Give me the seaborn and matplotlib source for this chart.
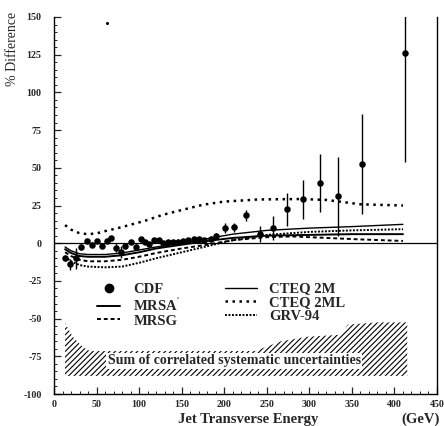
import numpy as np
import pandas as pd
import matplotlib
matplotlib.use("Agg")
import matplotlib.pyplot as plt
import seaborn as sns
from matplotlib.ticker import MultipleLocator, FuncFormatter
from matplotlib.lines import Line2D

# ---------------- data ----------------
cdf_et = [13, 19, 26, 32, 39, 45, 51, 56, 62, 67, 73, 79, 84, 90, 96, 102, 107, 112,
          117, 123, 128, 134, 140, 146, 152, 158, 164, 170, 176, 184, 190, 201, 211,
          225, 242, 257, 274, 292, 313, 334, 362, 412]
cdf_diff = [-9.5, -14, -10, -2.6, 1.5, -1, 1.5, -2, 1.5, 3.3, -3, -6, -1.8, 0.7, -2.2,
            2.6, 0.7, -0.7, 2.2, 1.8, 0, 0.5, 0.5, 1, 1.5, 2.2, 2.8, 2.8, 2.2, 3, 5,
            10, 10.5, 18.5, 6, 10, 22.5, 29, 40, 31, 52.5, 126]
cdf_err = [2, 3.5, 7, 2, 1.5, 1.5, 1.5, 1.5, 1.5, 1.5, 3, 4, 1.5, 1.5, 1.5, 1.5, 1.5,
           1.5, 1.5, 1.5, 1.5, 1.5, 1.5, 1.5, 1.5, 1.5, 1.5, 1.5, 1.5, 1.5, 2, 3.3, 3,
           3.8, 5.5, 8, 11, 13, 19, 26, 33, 72]

stray_x = [62]
stray_y = [146]

mrsa_et = [13, 20, 30, 40, 60, 80, 100, 120, 150, 180, 210, 250, 300, 350, 410]
mrsa_diff = [-4, -6.5, -8.5, -9, -9, -8, -6, -3.5, -1, 1.5, 3.5, 5, 5.5, 6, 6]

cteq2m_et = [13, 20, 30, 40, 60, 80, 100, 120, 150, 180, 210, 250, 300, 350, 410]
cteq2m_diff = [-2.5, -5, -7, -7.5, -7.5, -6.5, -4.5, -2.5, 0, 3, 6, 8.5, 10, 11, 12.5]

mrsg_et = [13, 20, 30, 40, 60, 80, 100, 120, 150, 180, 210, 250, 280, 320, 360, 410]
mrsg_diff = [-6, -8.5, -11, -12, -12, -11, -9, -6.5, -3.5, -1, 2, 4, 4.5, 3.5, 2.5, 1.5]

grv_et = [13, 20, 30, 40, 60, 80, 100, 120, 150, 180, 210, 250, 300, 350, 410]
grv_diff = [-9, -12, -14.5, -15.5, -16, -15.5, -13, -10, -6, -2, 2, 5.5, 7.5, 8.5, 9.3]

cteq2ml_et = [13, 20, 30, 40, 50, 60, 75, 95, 110, 127, 150, 175, 200, 240, 290, 320, 360, 410]
cteq2ml_diff = [12, 9, 6.6, 6, 6.5, 8, 10, 13, 15.4, 18.7, 22, 25.5, 27.6, 29, 29.3, 28.7, 25.8, 25]

band_et = [13, 22, 34, 42, 100, 150, 200, 236, 267, 298, 337, 345, 380, 415]
band_top = [-53, -62, -69, -71.5, -71.5, -71.5, -71.5, -71.5, -65, -62, -60.7, -54, -52.5, -52.5]
band_bottom = [-88] * len(band_et)

legend_left = ["CDF", "MRSA$'$", "MRSG"]
legend_right = ["CTEQ 2M", "CTEQ 2ML", "GRV-94"]

# ---------------- style ----------------
sns.set_style("ticks")
plt.rcParams['font.family'] = ['Liberation Serif', 'DejaVu Serif']
plt.rcParams['hatch.linewidth'] = 0.8
plt.rcParams['mathtext.fontset'] = 'custom'
plt.rcParams['mathtext.rm'] = 'Liberation Serif'

fig = plt.figure(figsize=(4.44, 4.26), dpi=100)
ax = fig.add_axes([54 / 444, 1 - 394 / 426, 383 / 444, 377 / 426])

curves = pd.concat([
    pd.DataFrame({"et": mrsa_et, "diff": mrsa_diff, "pdf": "MRSA$'$"}),
    pd.DataFrame({"et": mrsg_et, "diff": mrsg_diff, "pdf": "MRSG"}),
    pd.DataFrame({"et": cteq2m_et, "diff": cteq2m_diff, "pdf": "CTEQ 2M"}),
    pd.DataFrame({"et": cteq2ml_et, "diff": cteq2ml_diff, "pdf": "CTEQ 2ML"}),
    pd.DataFrame({"et": grv_et, "diff": grv_diff, "pdf": "GRV-94"}),
])
styles = {
    "MRSA$'$": dict(ls="-", lw=1.4),
    "MRSG": dict(ls=(0, (2, 1.5)), lw=1.4),
    "CTEQ 2M": dict(ls="-", lw=1.0),
    "CTEQ 2ML": dict(ls=(0, (1, 1.8)), lw=1.8),
    "GRV-94": dict(ls=(0, (1, 0.8)), lw=1.4),
}

# hatched band
ax.fill_between(band_et, band_bottom, band_top, facecolor="white", edgecolor="black",
                hatch="//////", linewidth=0, zorder=1)

ax.axhline(0, color="black", lw=0.9, zorder=1)

handles = {}
for name, st in styles.items():
    sub = curves[curves["pdf"] == name]
    sns.lineplot(data=sub, x="et", y="diff", ax=ax, color="black", linestyle=st["ls"],
                 linewidth=st["lw"], estimator=None, sort=True)
    handles[name] = ax.lines[-1]

ax.errorbar(cdf_et, cdf_diff, yerr=cdf_err, fmt="none", ecolor="black", elinewidth=1.0,
            capsize=0, zorder=3)
sns.scatterplot(x=cdf_et, y=cdf_diff, ax=ax, color="black", s=22, edgecolor="black",
                linewidth=0, zorder=4)
sns.scatterplot(x=stray_x, y=stray_y, ax=ax, color="black", s=5, linewidth=0, zorder=4)

ax.text(212, -78, "Sum of correlated systematic uncertainties", ha="center", va="center",
        fontsize=10, fontweight="bold", zorder=5,
        bbox=dict(facecolor="white", edgecolor="none", pad=1.0))

cdf_h = Line2D([], [], marker="o", color="black", ls="none", markersize=6)
leg1 = ax.legend([cdf_h, handles["MRSA$'$"], handles["MRSG"]], legend_left,
                 loc="upper left", bbox_to_anchor=((97 - 54) / 383, 0.296), frameon=False,
                 prop=dict(weight="bold", size=10.5), handlelength=1.6,
                 labelspacing=0.05, handletextpad=0.9, borderpad=0, borderaxespad=0)
ax.add_artist(leg1)
leg2 = ax.legend([handles["CTEQ 2M"], handles["CTEQ 2ML"], handles["GRV-94"]], legend_right,
                 loc="upper left", bbox_to_anchor=((225 - 54) / 383, 0.296), frameon=False,
                 prop=dict(weight="bold", size=10.5), handlelength=2.2,
                 labelspacing=0.05, handletextpad=0.8, borderpad=0, borderaxespad=0)

ax.set_xlim(0, 450)
ax.set_ylim(-100, 150)
ax.xaxis.set_major_locator(MultipleLocator(50))
ax.xaxis.set_minor_locator(MultipleLocator(10))
ax.yaxis.set_major_locator(MultipleLocator(25))
ax.yaxis.set_minor_locator(MultipleLocator(5))
ax.tick_params(which="both", direction="in", top=False, right=False)
ax.tick_params(which="major", length=5, width=0.9, labelsize=7.2)
ax.tick_params(axis="y", which="major", pad=9)
ax.tick_params(axis="x", which="major", pad=4)
ax.tick_params(which="minor", length=2.5, width=0.7)
ax.yaxis.set_major_formatter(FuncFormatter(lambda v, p: f"{int(v)}"))
for lab in ax.get_xticklabels() + ax.get_yticklabels():
    lab.set_fontweight("bold")

ax.spines["top"].set_visible(False)
for s in ["left", "bottom", "right"]:
    ax.spines[s].set_linewidth(1.0)
    ax.spines[s].set_color("black")

ax.set_xlabel("")
ax.set_ylabel("% Difference", fontsize=10)
ax.yaxis.label.set_va("center")
ax.yaxis.set_label_coords((13 - 54) / 383, 0.915)
fig.text(248.5 / 444, 1 - 419 / 426, "Jet Transverse Energy", ha="center", va="center",
         fontsize=10.5, fontweight="bold")
fig.text(421 / 444, 1 - 419 / 426, "(GeV)", ha="center", va="center", fontsize=10.5,
         fontweight="bold")

fig.savefig("out.png", dpi=100)
